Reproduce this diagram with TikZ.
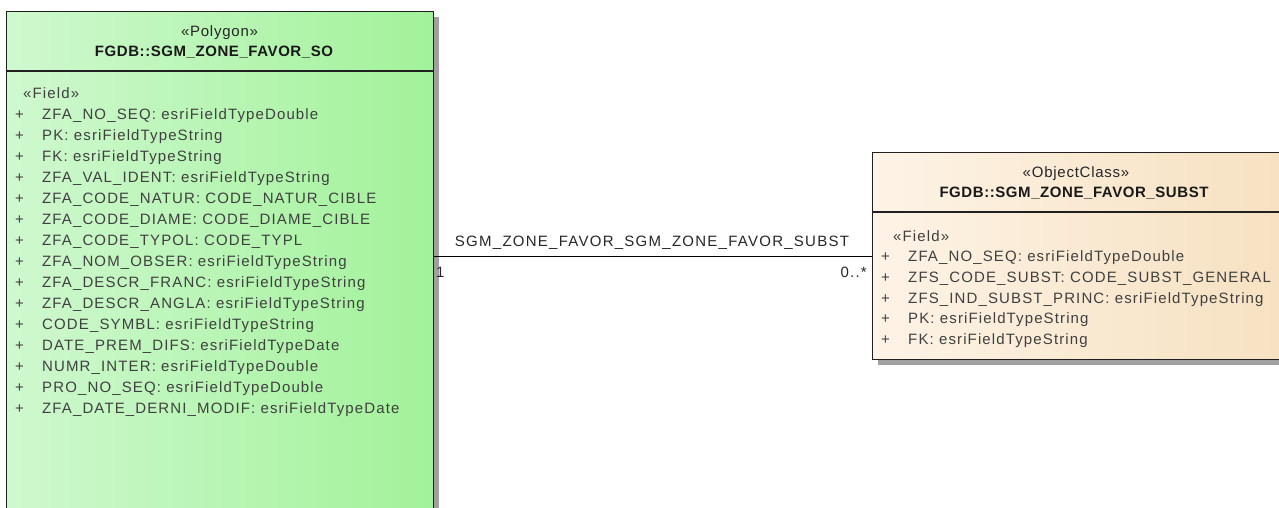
\documentclass[tikz,border=0pt]{standalone}
\usepackage{fontspec}
\setmainfont{Liberation Sans}
\usetikzlibrary{shadows}
\definecolor{txt}{HTML}{404040}
\definecolor{greenL}{HTML}{CFF8CF}
\definecolor{greenR}{HTML}{A2F29A}
\definecolor{tanL}{HTML}{FDF3E6}
\definecolor{tanR}{HTML}{F6E0BF}
\definecolor{shade}{HTML}{A0A0A0}
\definecolor{edge}{HTML}{202020}
\begin{document}
\begin{tikzpicture}[x=1pt,y=-1pt,
  classbox/.style={draw=edge, line width=1.4pt, rectangle, anchor=north west, inner sep=0pt,
     drop shadow={shadow xshift=5pt, shadow yshift=-5pt, fill=shade, opacity=1}},
  field/.style={anchor=base west, inner sep=0pt, text=txt, font=\fontsize{15}{17}\selectfont\addfontfeature{LetterSpace=7.5}},
  plus/.style={anchor=base west, inner sep=0pt, text=txt, font=\fontsize{15}{17}\selectfont},
  stereo/.style={anchor=base, inner sep=0pt, text=black!85, font=\fontsize{15}{17}\selectfont\addfontfeature{LetterSpace=5}},
  cname/.style={anchor=base, inner sep=0pt, text=black!90, font=\fontsize{15}{17}\selectfont\bfseries\addfontfeature{LetterSpace=3.8}},
  lbl/.style={inner sep=0pt, text=black!85, font=\fontsize{15}{17}\selectfont\addfontfeature{LetterSpace=8.4}},
  sep/.style={draw=edge, line width=1.4pt}]
\useasboundingbox (0,0) rectangle (1279,508);
\clip (0,0) rectangle (1279,508);

% left class
\node[classbox, left color=greenL, right color=greenR, minimum width=427pt, minimum height=530pt] (lbox) at (6,11) {};
\coordinate (lsep) at (0,71);
\draw[sep] (lbox.west |- lsep) -- (lbox.east |- lsep);
\node[stereo] (lst) at (219.5,37) {«Polygon»};
\node[cname] (lnm) at (214,57) {FGDB::SGM\_ZONE\_FAVOR\_SO};
\node[field] (lfld) at (23,99) {«Field»};
\foreach \i/\t in {0/ZFA\_NO\_SEQ: esriFieldTypeDouble,
  1/PK: esriFieldTypeString,
  2/FK: esriFieldTypeString,
  3/ZFA\_VAL\_IDENT: esriFieldTypeString,
  4/ZFA\_CODE\_NATUR: CODE\_NATUR\_CIBLE,
  5/ZFA\_CODE\_DIAME: CODE\_DIAME\_CIBLE,
  6/ZFA\_CODE\_TYPOL: CODE\_TYPL,
  7/ZFA\_NOM\_OBSER: esriFieldTypeString,
  8/ZFA\_DESCR\_FRANC: esriFieldTypeString,
  9/ZFA\_DESCR\_ANGLA: esriFieldTypeString,
  10/CODE\_SYMBL: esriFieldTypeString,
  11/DATE\_PREM\_DIFS: esriFieldTypeDate,
  12/NUMR\_INTER: esriFieldTypeDouble,
  13/PRO\_NO\_SEQ: esriFieldTypeDouble,
  14/ZFA\_DATE\_DERNI\_MODIF: esriFieldTypeDate} {
  \node[plus] (lp\i) at (15,119.5+21*\i) {+};
  \node[field] (lf\i) at (42,119.5+21*\i) {\t};
}

% right class
\node[classbox, left color=tanL, right color=tanR, minimum width=430pt, minimum height=207pt] (rbox) at (872,152) {};
\coordinate (rsep) at (0,212);
\draw[sep] (rbox.west |- rsep) -- (1285,212);
\node[stereo] (rst) at (1076,177) {«ObjectClass»};
\node[cname] (rnm) at (1074,197) {FGDB::SGM\_ZONE\_FAVOR\_SUBST};
\node[field] (rfld) at (893,241) {«Field»};
\foreach \i/\t in {0/ZFA\_NO\_SEQ: esriFieldTypeDouble,
  1/ZFS\_CODE\_SUBST: CODE\_SUBST\_GENERAL,
  2/ZFS\_IND\_SUBST\_PRINC: esriFieldTypeString,
  3/PK: esriFieldTypeString,
  4/FK: esriFieldTypeString} {
  \node[plus] (rp\i) at (881,261.5+20.8*\i) {+};
  \node[field] (rf\i) at (908,261.5+20.8*\i) {\t};
}

% association
\coordinate (alev) at (0,256);
\draw[line width=1pt, black] (lbox.east |- alev) -- (rbox.west |- alev);
\node[lbl] (aname) at (652,243) {SGM\_ZONE\_FAVOR\_SGM\_ZONE\_FAVOR\_SUBST};
\node[lbl, anchor=west] (m1) at (436,272) {1};
\node[lbl, anchor=east] (m2) at (867,272) {0..*};
\end{tikzpicture}
\end{document}
